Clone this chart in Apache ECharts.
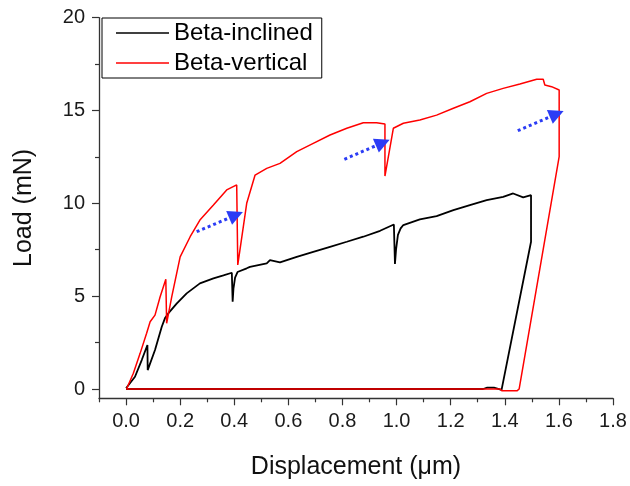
<!DOCTYPE html>
<html>
<head>
<meta charset="utf-8">
<script src="https://cdn.jsdelivr.net/npm/echarts@6/dist/echarts.min.js"></script>
<style>
html,body{margin:0;padding:0;background:#fff;}
#chart{width:630px;height:486px;}
</style>
</head>
<body>
<div id="chart"></div>
<script>
// ---- data ----
const seriesNames = ['Beta-inclined', 'Beta-vertical'];

// [displacement (um), load (mN)]
const inclinedLoad = [
  [0.000,0.04],[0.033,0.66],[0.058,1.56],[0.079,2.37],[0.080,1.02],[0.107,2.10],
  [0.132,3.35],[0.144,3.82],[0.156,4.07],[0.187,4.60],[0.224,5.15],[0.273,5.69],
  [0.323,5.96],[0.360,6.12],[0.391,6.26],[0.394,4.70],[0.397,5.40],[0.403,6.00],
  [0.412,6.30],[0.446,6.50],[0.458,6.58],[0.520,6.77],[0.532,6.94],[0.569,6.82],
  [0.631,7.12],[0.692,7.39],[0.754,7.66],[0.816,7.93],[0.877,8.20],[0.939,8.52],
  [0.990,8.86],[0.994,6.73],[0.998,7.50],[1.005,8.30],[1.015,8.65],[1.025,8.83],
  [1.086,9.13],[1.148,9.31],[1.210,9.63],[1.271,9.90],[1.333,10.17],[1.394,10.35],
  [1.431,10.53],[1.468,10.32],[1.497,10.44],[1.497,7.93],[1.388,-0.05],
  [1.360,0.07],[1.335,0.07],[1.320,0.00],[0.000,0.00]
];

const verticalLoad = [
  [0.003,0.04],[0.027,0.85],[0.052,1.92],[0.076,3.00],[0.089,3.62],[0.107,3.98],
  [0.126,4.97],[0.147,5.91],[0.150,3.54],[0.169,4.97],[0.200,7.12],[0.237,8.20],
  [0.273,9.10],[0.323,9.91],[0.372,10.72],[0.409,10.99],[0.413,6.68],[0.446,10.00],
  [0.477,11.52],[0.520,11.88],[0.569,12.15],[0.631,12.78],[0.692,13.23],[0.754,13.68],
  [0.816,14.04],[0.877,14.34],[0.926,14.34],[0.957,14.27],[0.957,11.47],[0.988,14.04],
  [1.025,14.31],[1.086,14.49],[1.148,14.75],[1.210,15.12],[1.271,15.47],[1.333,15.92],
  [1.394,16.19],[1.456,16.42],[1.518,16.68],[1.542,16.68],[1.548,16.37],[1.573,16.28],
  [1.601,16.10],[1.601,12.51],[1.453,0.00],[1.445,-0.10],[1.390,-0.10],[1.382,0.00],
  [0.000,0.00]
];

// annotation arrows: [tail, head]
const arrows = [
  [[0.261,8.47],[0.4065,9.37]],
  [[0.807,12.37],[0.949,13.26]],
  [[1.448,13.91],[1.592,14.81]]
];

const xMajorTicks = [0,0.2,0.4,0.6,0.8,1.0,1.2,1.4,1.6,1.8];
const xMinorTicks = [-0.1,0.1,0.3,0.5,0.7,0.9,1.1,1.3,1.5,1.7];
const yMajorTicks = [0,5,10,15,20];
const yMinorTicks = [2.5,7.5,12.5,17.5];

// ---- chart ----
const FONT = 'Liberation Sans, Arial, sans-serif';
const chart = echarts.init(document.getElementById('chart'), null, {renderer:'canvas'});

const axisColor = '#333';
const xRange = {min:-0.1, max:1.8};
const yRange = {min:-0.5, max:20};

chart.setOption({
  animation:false,
  backgroundColor:'#fff',
  grid:{left:99, right:17, top:17.6, bottom:87.7, containLabel:false},
  legend:{
    data:seriesNames,
    orient:'vertical',
    left:102, top:18,
    padding:[3,9,3,14],
    itemGap:6,
    itemWidth:53, itemHeight:1.5,
    itemTextGap:7,
    icon:'rect',
    borderColor:'#000', borderWidth:1,
    backgroundColor:'#fff',
    textStyle:{fontFamily:FONT, fontSize:24, color:'#000'}
  },
  xAxis:[{
    type:'value', min:xRange.min, max:xRange.max,
    name:'Displacement (\u03bcm)', nameLocation:'middle', nameGap:56,
    nameTextStyle:{fontFamily:FONT, fontSize:25, color:'#111'},
    axisLine:{show:true, onZero:false, lineStyle:{color:axisColor, width:1.3}},
    axisTick:{show:true, inside:false, length:7, customValues:xMajorTicks, lineStyle:{color:axisColor, width:1.2}},
    axisLabel:{show:true, margin:13, customValues:xMajorTicks, fontFamily:FONT, fontSize:20, color:'#1a1a1a',
      formatter:v=>v.toFixed(1)},
    splitLine:{show:false}
  },{
    type:'value', min:xRange.min, max:xRange.max, position:'bottom',
    axisLine:{show:false, onZero:false},
    axisTick:{show:true, inside:false, length:4, customValues:xMinorTicks, lineStyle:{color:axisColor, width:1.2}},
    axisLabel:{show:false},
    splitLine:{show:false}
  }],
  yAxis:[{
    type:'value', min:yRange.min, max:yRange.max,
    name:'Load (mN)', nameLocation:'middle', nameGap:62,
    nameTextStyle:{fontFamily:FONT, fontSize:25, color:'#111'},
    axisLine:{show:true, onZero:false, lineStyle:{color:axisColor, width:1.3}},
    axisTick:{show:true, inside:false, length:7, customValues:yMajorTicks, lineStyle:{color:axisColor, width:1.2}},
    axisLabel:{show:true, margin:14, customValues:yMajorTicks, fontFamily:FONT, fontSize:20, color:'#1a1a1a'},
    splitLine:{show:false}
  },{
    type:'value', min:yRange.min, max:yRange.max, position:'left',
    axisLine:{show:false, onZero:false},
    axisTick:{show:true, inside:false, length:4, customValues:yMinorTicks, lineStyle:{color:axisColor, width:1.2}},
    axisLabel:{show:false},
    splitLine:{show:false}
  }],
  series:[
    {
      name:seriesNames[0], type:'line', xAxisIndex:0, yAxisIndex:0,
      data:inclinedLoad, symbol:'none', showSymbol:false, smooth:false,
      color:'#000', lineStyle:{color:'#000', width:1.8}, z:2
    },
    {
      name:seriesNames[1], type:'line', xAxisIndex:0, yAxisIndex:0,
      data:verticalLoad, symbol:'none', showSymbol:false, smooth:false,
      color:'#ff0000', lineStyle:{color:'#ff0000', width:1.5}, z:3
    },
    {
      name:'arrows', type:'lines', coordinateSystem:'cartesian2d', xAxisIndex:0, yAxisIndex:0,
      data:arrows.map(a=>({coords:a})),
      symbol:['none','triangle'], symbolSize:[14,15],
      lineStyle:{color:'#2b3cf5', width:3, type:[3,3], opacity:1, curveness:0},
      z:4
    }
  ]
});
</script>
</body>
</html>
